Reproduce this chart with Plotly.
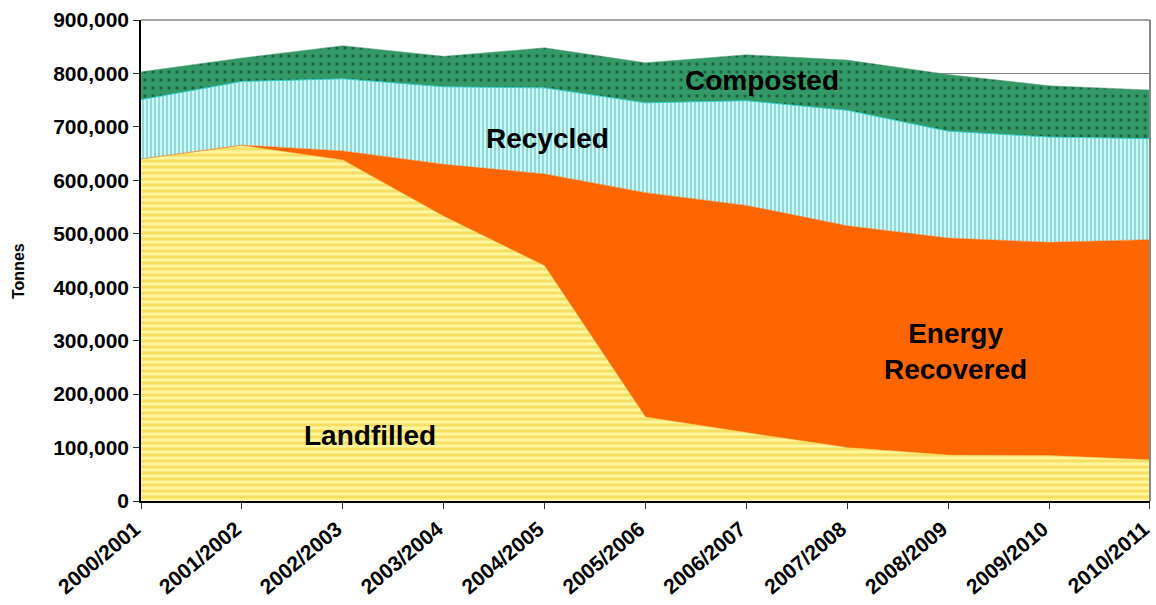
import plotly.graph_objects as go

years = ["2000/2001", "2001/2002", "2002/2003", "2003/2004", "2004/2005", "2005/2006",
         "2006/2007", "2007/2008", "2008/2009", "2009/2010", "2010/2011"]
landfilled = [640000, 665000, 638000, 533000, 440000, 157000, 128000, 100000, 86000, 85000, 77000]
energy = [0, 1000, 17000, 97000, 172000, 420000, 425000, 415000, 406000, 399000, 412000]
recycled = [111000, 119000, 135000, 145000, 161000, 168000, 196000, 216000, 200000, 197000, 189000]
composted = [52000, 44000, 62000, 57000, 75000, 75000, 86000, 94000, 106000, 96000, 91000]

y_ticks = list(range(0, 900001, 100000))
y_ticktext = [f"{v:,}" for v in y_ticks]

x = list(range(len(years)))
FONT = "Liberation Sans, Arial, sans-serif"

fig = go.Figure()
fig.add_trace(go.Scatter(
    x=x, y=landfilled, name="Landfilled", stackgroup="one", mode="lines",
    line=dict(width=0.5, color="#E8C84A"),
    fillcolor="#FFF6A0",
    fillpattern=dict(shape="-", bgcolor="#FFF6A0", fgcolor="#F0C828", size=6, solidity=0.5),
))
fig.add_trace(go.Scatter(
    x=x, y=energy, name="Energy Recovered", stackgroup="one", mode="lines",
    line=dict(width=0.5, color="#FF6600"),
    fillcolor="#FF6600",
))
fig.add_trace(go.Scatter(
    x=x, y=recycled, name="Recycled", stackgroup="one", mode="lines",
    line=dict(width=1, color="#33CCCC"),
    fillcolor="#CCFFFF",
    fillpattern=dict(shape="|", bgcolor="#CCFFFF", fgcolor="#5FAFA8", size=4, solidity=0.55),
))
fig.add_trace(go.Scatter(
    x=x, y=composted, name="Composted", stackgroup="one", mode="lines",
    line=dict(width=0.5, color="#66AA88"),
    fillcolor="#339966",
    fillpattern=dict(shape=".", bgcolor="#339966", fgcolor="#0F2A1C", size=8, solidity=0.15),
))

ann_font = dict(family=FONT, size=28, color="black", weight="bold")
labels = [
    (6.15, 786000, "Composted"),
    (4.03, 678000, "Recycled"),
    (8.07, 279000, "Energy<br>Recovered"),
    (2.27, 122000, "Landfilled"),
]
for ax, ay, txt in labels:
    fig.add_annotation(x=ax, y=ay, text=txt, showarrow=False, font=ann_font)

W, H = 1156, 605
L, T, PW, PH = 141, 20, 1009, 481

# y axis title
fig.add_annotation(xref="paper", yref="paper", x=(18 - L) / PW, y=(T + PH - 271) / PH,
                   text="Tonnes", textangle=-90, showarrow=False,
                   xanchor="center", yanchor="middle",
                   font=dict(family=FONT, size=16, color="black", weight="bold"))

# right and top border of plot area
fig.add_shape(type="line", xref="paper", yref="paper", x0=1, x1=1, y0=0, y1=1,
              line=dict(color="#888888", width=2), layer="above")
fig.add_shape(type="line", xref="paper", yref="paper", x0=0, x1=1, y0=1, y1=1,
              line=dict(color="#888888", width=1.5), layer="above")

fig.update_layout(
    width=W, height=H,
    margin=dict(l=L, r=W - L - PW, t=T, b=H - T - PH),
    plot_bgcolor="white", paper_bgcolor="white",
    showlegend=False,
    font=dict(family=FONT, color="black"),
    xaxis=dict(
        range=[-0.0005, 10.0005], tickvals=x, ticktext=years, tickangle=-40,
        tickfont=dict(family=FONT, size=21, color="black", weight="bold"),
        ticklabeloverflow="allow", ticklabelshift=-6,
        showgrid=False, showline=True, linecolor="black", linewidth=1.5,
        ticks="outside", ticklen=6, tickcolor="#333333", zeroline=False,
        automargin=False,
    ),
    yaxis=dict(
        range=[0, 900000], tickvals=y_ticks, ticktext=y_ticktext,
        tickfont=dict(family=FONT, size=21, color="black", weight="bold"),
        ticklabeloverflow="allow",
        showgrid=True, gridcolor="#808080", gridwidth=1.2,
        showline=True, linecolor="black", linewidth=1.5,
        ticks="outside", ticklen=6, tickcolor="#333333", zeroline=False,
        automargin=False,
    ),
)

fig.write_html(
    "out.html",
    config={"displayModeBar": False},
    post_script="document.body.style.margin='0';document.body.style.overflow='hidden';",
)
